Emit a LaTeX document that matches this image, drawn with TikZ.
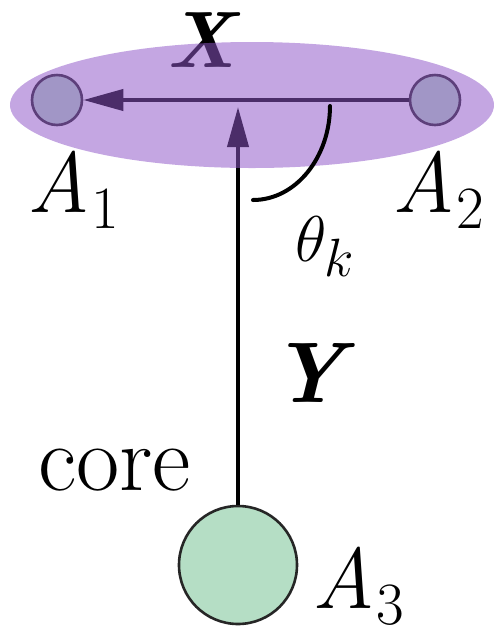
\RequirePackage{fix-cm}
\documentclass[tikz,border=0pt]{standalone}
\usetikzlibrary{arrows.meta,shapes.geometric}
\definecolor{ellcol}{RGB}{143,86,200}
\definecolor{nodegreen}{RGB}{181,222,197}
\newcommand\Asub[1]{\textit{A}\kern1pt\raisebox{-8pt}{\fontsize{30}{30}\selectfont #1}}
\begin{document}
\begin{tikzpicture}[x=0.5pt,y=-0.5pt,
  atom/.style={circle, draw=black!85, line width=1.3pt, fill=nodegreen, inner sep=0},
  arr/.style={line width=2pt, -{Triangle[length=20pt,width=10.5pt]}},
  lab/.style={inner sep=0, anchor=base west, font=\fontsize{43}{43}\selectfont},
  bigvec/.style={lab, font=\fontsize{40}{40}\selectfont\bfseries\itshape}]
\useasboundingbox (0,0) rectangle (496,634);
\node[atom, minimum size=25pt] (a1) at (57,100) {};
\node[atom, minimum size=25pt] (a2) at (435,100) {};
\node[atom, minimum size=59pt] (a3) at (238,565) {};
\coordinate (top) at (238,107);
\draw[arr] (a2) -- (a1);
\draw[arr] (a3) -- (top);
\node[bigvec] (xl) at (166,67) {X};
\node[ellipse, fill=ellcol, fill opacity=0.525, inner sep=0,
      minimum width=242pt, minimum height=63pt] (group) at (252,105) {};
\draw[line width=2pt, line cap=round] (330,106) .. controls (330,157) and (296,200) .. (253,200);
\node[lab] (l1) at (27,212) {\Asub{1}};
\node[lab] (l2) at (392,212) {\Asub{2}};
\node[lab] (l3) at (312,608) {\Asub{3}};
\node[bigvec, font=\fontsize{43}{43}\selectfont\bfseries\itshape] (yl) at (270,402) {Y};
\node[lab, font=\fontsize{47}{47}\selectfont] (core) at (38,490) {core};
\node[inner sep=0, anchor=base west, font=\fontsize{24.88}{30}\selectfont] (th) at (295,261) {\scalebox{1.3}{$\theta_k$}};
\end{tikzpicture}
\end{document}
